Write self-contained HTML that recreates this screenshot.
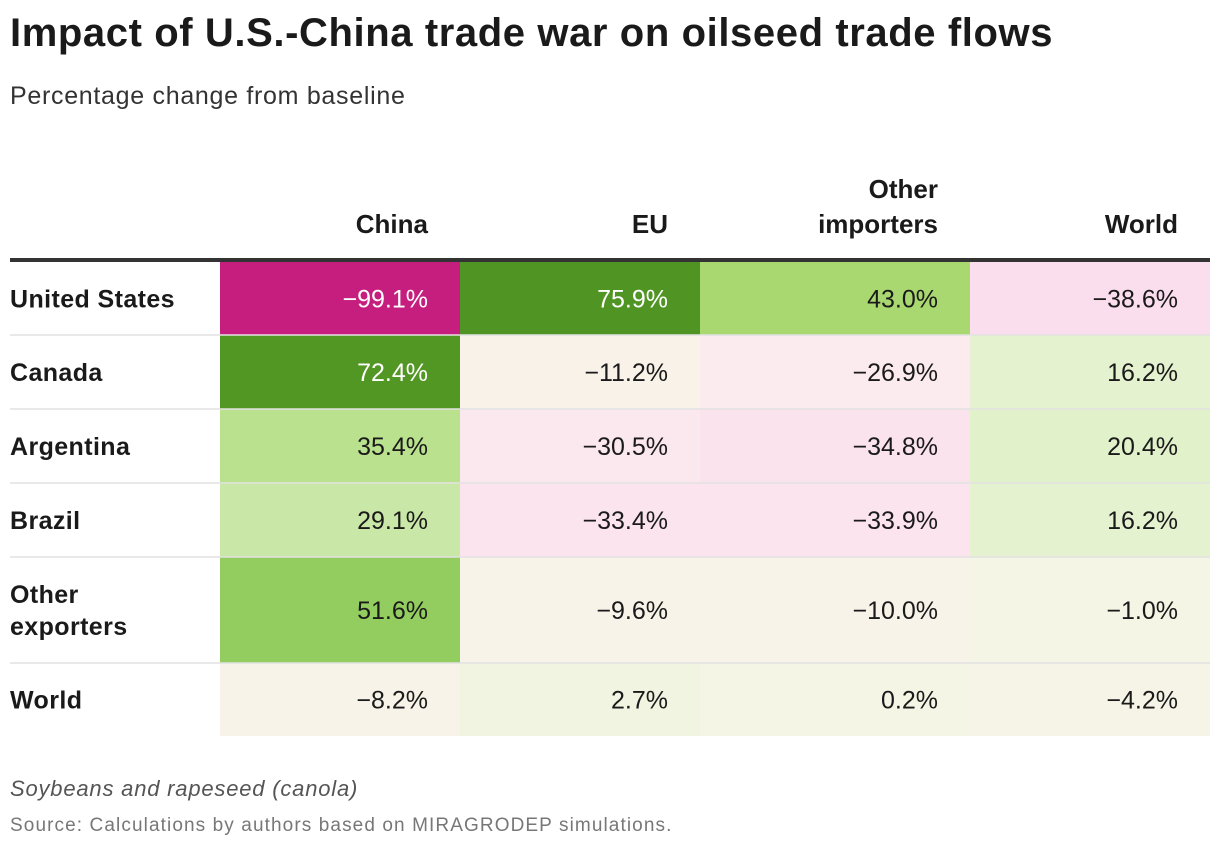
<!DOCTYPE html>
<html><head><meta charset="utf-8">
<style>
body{margin:0;width:1220px;height:850px;background:#fff;font-family:"Liberation Sans",Arial,sans-serif;color:#1a1a1a;position:relative;overflow:hidden}
#title{position:absolute;left:10px;top:11px;font-size:40px;font-weight:bold;letter-spacing:0.6px}
#subtitle{position:absolute;left:10px;top:82px;font-size:25px;color:#333;letter-spacing:0.7px}
#tbl{position:absolute;left:0;top:0}
.note{position:absolute;left:10px;font-size:22px;color:#555}
</style></head><body>
<div id="title">Impact of U.S.-China trade war on oilseed trade flows</div>
<div id="subtitle">Percentage change from baseline</div>
<svg id="tbl" width="1220" height="850"></svg>
<div class="note" style="top:776px;font-style:italic;letter-spacing:0.8px">Soybeans and rapeseed (canola)</div>
<div class="note" style="top:815px;font-size:19px;color:#777;letter-spacing:1.1px">Source: Calculations by authors based on MIRAGRODEP simulations.</div>
<script>
const columns=["China","EU","Other importers","World"];
const rows=["United States","Canada","Argentina","Brazil","Other exporters","World"];
const valUS=[-99.1,75.9,43.0,-38.6];
const valCanada=[72.4,-11.2,-26.9,16.2];
const valArgentina=[35.4,-30.5,-34.8,20.4];
const valBrazil=[29.1,-33.4,-33.9,16.2];
const valOther=[51.6,-9.6,-10.0,-1.0];
const valWorld=[-8.2,2.7,0.2,-4.2];
const values=[valUS,valCanada,valArgentina,valBrazil,valOther,valWorld];

const NS="http://www.w3.org/2000/svg";
const svg=document.getElementById('tbl');
const colX=[220,460,700,970,1210];
const rowY=[262,335,409,483,557,663,736];
const stops=[[-100,[197,27,125]],[-60,[236,150,195]],[-38,[251,224,238]],[-25,[251,236,238]],[-10,[248,243,233]],[0,[244,245,228]],[10,[234,243,214]],[20,[226,241,203]],[30,[199,230,162]],[36,[185,224,140]],[43,[169,216,112]],[52,[147,204,94]],[72,[82,150,36]],[80,[77,146,33]]];
function color(v){
  for(let i=0;i<stops.length-1;i++){
    const a=stops[i],b=stops[i+1];
    if(v>=a[0]&&v<=b[0]){const t=(v-a[0])/(b[0]-a[0]);
      const c=a[1].map((x,k)=>Math.round(x+(b[1][k]-x)*t));return `rgb(${c})`;}
  }
  return v<0?'rgb(197,27,125)':'rgb(77,146,33)';
}
function mk(tag,attrs,text){const e=document.createElementNS(NS,tag);for(const k in attrs)e.setAttribute(k,attrs[k]);if(text!==undefined)e.textContent=text;svg.appendChild(e);return e;}
columns.forEach((c,j)=>{
  const x=colX[j+1]-32;
  const words=c==="Other importers"?["Other","importers"]:[c];
  words.forEach((w,k)=>{
    const t=mk('text',{x:x,y:233-(words.length-1-k)*35,'text-anchor':'end','font-size':26,'font-weight':'bold',fill:'#1a1a1a'},w);
    
    
  });
});
values.forEach((r,i)=>{
  r.forEach((v,j)=>{
    const rc=mk('rect',{x:colX[j],y:rowY[i],width:colX[j+1]-colX[j],height:rowY[i+1]-rowY[i],fill:color(v)});
    
    
    const dark=v<-60||v>60;
    const t=mk('text',{x:colX[j+1]-32,y:(rowY[i]+rowY[i+1])/2+9,'text-anchor':'end','font-size':25,fill:dark?'#fff':'#1a1a1a'},(v<0?'\u2212':'')+Math.abs(v).toFixed(1)+'%');
    
    
  });
  if(i>0){const l=mk('line',{x1:10,x2:1210,y1:rowY[i],y2:rowY[i],stroke:'#e2e2e2','stroke-width':1.5});
    
    }
  const words=rows[i]==="Other exporters"?["Other","exporters"]:[rows[i]];
  const mid=(rowY[i]+rowY[i+1])/2;
  words.forEach((w,k)=>{
    const t=mk('text',{x:10,y:mid+9+(k-(words.length-1)/2)*32,'font-size':25,'font-weight':'bold',fill:'#1a1a1a','letter-spacing':0.4},w);
    
    
  });
});
const hl=mk('rect',{x:10,y:258,width:1200,height:4,fill:'#333'});


</script>
</body></html>
